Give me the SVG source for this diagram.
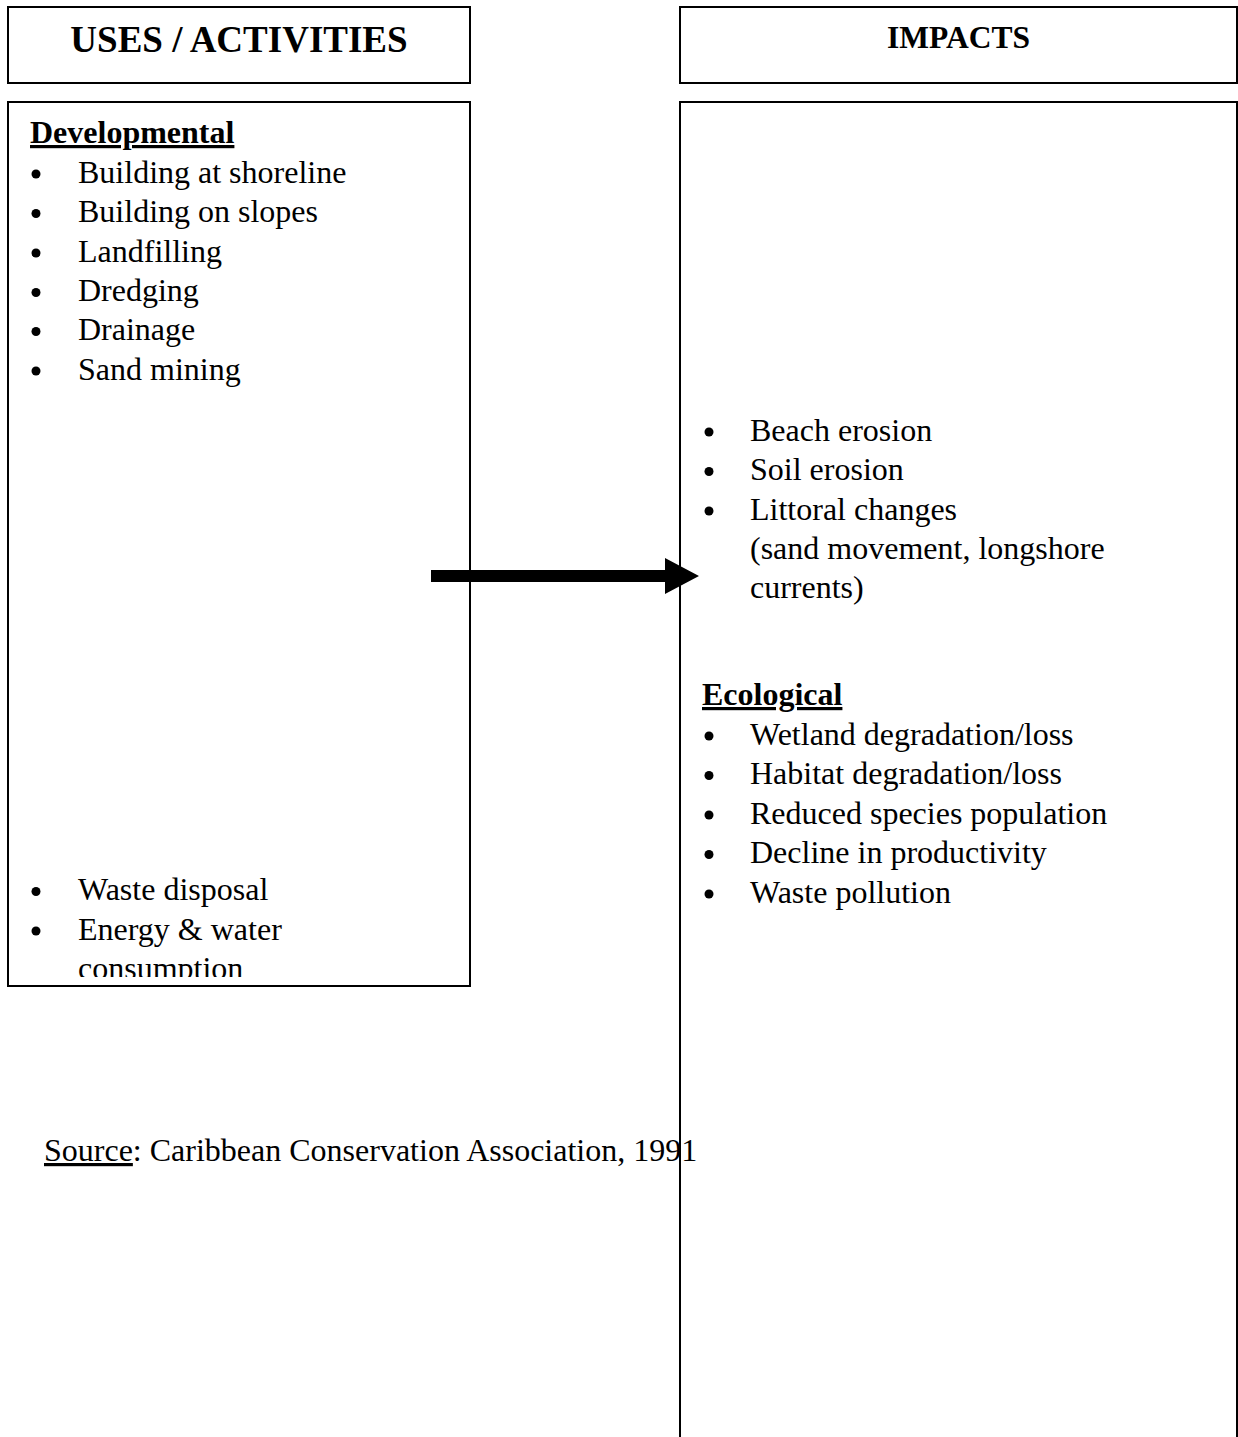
<svg xmlns="http://www.w3.org/2000/svg" width="1238" height="1437" viewBox="0 0 1238 1437">
<style>
.box{fill:#fff;stroke:#000;stroke-width:2}
.t{font-family:"Liberation Serif","Times New Roman",serif;font-size:32px;fill:#000}
.b{font-weight:bold}
.u{text-decoration:underline}
.dot{fill:#000}
</style>
<defs>
<clipPath id="clipL"><rect x="8" y="102" width="462" height="875"/></clipPath>
</defs>
<rect width="1238" height="1437" fill="#fff"/>
<g id="uses-header">
<rect class="box" x="8" y="7" width="462" height="76"/>
<text class="t b" x="239" y="52" text-anchor="middle" style="font-size:37px">USES / ACTIVITIES</text>
</g>
<g id="impacts-header">
<rect class="box" x="680" y="7" width="557" height="76"/>
<text class="t b" x="958.5" y="48" text-anchor="middle" style="font-size:31.5px">IMPACTS</text>
</g>
<g id="uses-body">
<rect class="box" x="8" y="102" width="462" height="884"/>
<g clip-path="url(#clipL)">
<text class="t b u" x="30" y="143">Developmental</text>
<circle class="dot" cx="36" cy="174" r="4.5"/><text class="t" x="78" y="182.5">Building at shoreline</text>
<circle class="dot" cx="36" cy="213.5" r="4.5"/><text class="t" x="78" y="222">Building on slopes</text>
<circle class="dot" cx="36" cy="253" r="4.5"/><text class="t" x="78" y="261.5">Landfilling</text>
<circle class="dot" cx="36" cy="292.5" r="4.5"/><text class="t" x="78" y="301">Dredging</text>
<circle class="dot" cx="36" cy="331.5" r="4.5"/><text class="t" x="78" y="340">Drainage</text>
<circle class="dot" cx="36" cy="371" r="4.5"/><text class="t" x="78" y="379.5">Sand mining</text>
<circle class="dot" cx="36" cy="891.5" r="4.5"/><text class="t" x="78" y="900">Waste disposal</text>
<circle class="dot" cx="36" cy="931" r="4.5"/><text class="t" x="78" y="939.5">Energy &amp; water</text>
<text class="t" x="78" y="979">consumption</text>
</g>
</g>
<g id="impacts-body">
<path d="M680,1440 V102 H1237 V1440" fill="#fff" stroke="#000" stroke-width="2"/>
<circle class="dot" cx="709" cy="432" r="4.5"/><text class="t" x="750" y="440.5">Beach erosion</text>
<circle class="dot" cx="709" cy="471.5" r="4.5"/><text class="t" x="750" y="480">Soil erosion</text>
<circle class="dot" cx="709" cy="511" r="4.5"/><text class="t" x="750" y="519.5">Littoral changes</text>
<text class="t" x="750" y="559">(sand movement, longshore</text>
<text class="t" x="750" y="598">currents)</text>
<text class="t b u" x="702" y="705">Ecological</text>
<circle class="dot" cx="709" cy="736" r="4.5"/><text class="t" x="750" y="744.5">Wetland degradation/loss</text>
<circle class="dot" cx="709" cy="775.5" r="4.5"/><text class="t" x="750" y="784">Habitat degradation/loss</text>
<circle class="dot" cx="709" cy="815" r="4.5"/><text class="t" x="750" y="823.5">Reduced species population</text>
<circle class="dot" cx="709" cy="854.5" r="4.5"/><text class="t" x="750" y="863">Decline in productivity</text>
<circle class="dot" cx="709" cy="894" r="4.5"/><text class="t" x="750" y="902.5">Waste pollution</text>
</g>
<g id="connectors">
<path d="M431,570 H665 V558 L699,576 L665,594 V582 H431 Z" fill="#000"/>
</g>
<g id="source">
<text class="t" x="44" y="1161"><tspan class="u">Source</tspan>: Caribbean Conservation Association, 1991</text>
</g>
</svg>
